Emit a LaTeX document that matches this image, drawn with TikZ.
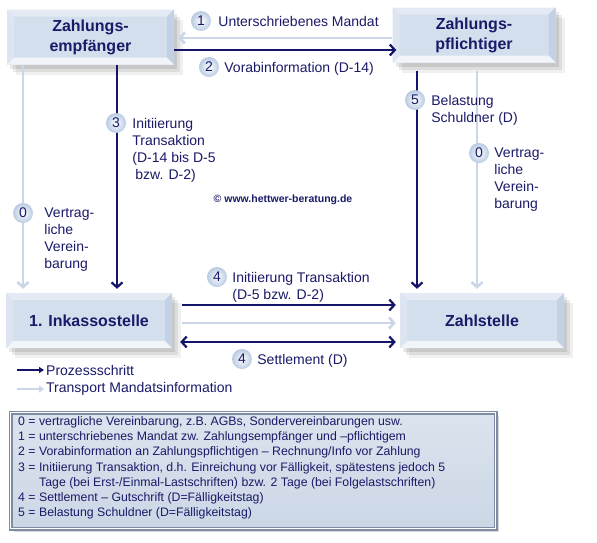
\documentclass[tikz,border=0pt]{standalone}
\usepackage{fontspec}
\setmainfont{Liberation Sans}
\usetikzlibrary{arrows.meta, shadows, positioning}

\definecolor{navy}{HTML}{1A1A68}
\definecolor{darkarrow}{HTML}{14146A}
\definecolor{lightarrow}{HTML}{CBD7E8}
\definecolor{boxfill}{HTML}{D4DFEE}
\definecolor{bevtop}{HTML}{E3EAF4}
\definecolor{bevleft}{HTML}{DCE5F1}
\definecolor{bevright}{HTML}{C3D1E4}
\definecolor{bevbottom}{HTML}{F1F5FA}
\definecolor{ballblue}{HTML}{B9CBE2}
\definecolor{notefill}{HTML}{CCD7E6}
\definecolor{noteline}{HTML}{7D8CA3}

\tikzset{
  party/.style={rectangle, minimum height=55pt, inner sep=0pt, align=center,
    fill=boxfill, text=navy, font={\fontsize{16}{20}\selectfont\bfseries},
    general shadow={shadow xshift=3pt, shadow yshift=-4pt, fill=black, opacity=0.09},
    general shadow={shadow xshift=6pt, shadow yshift=-7pt, fill=black, opacity=0.08},
    general shadow={shadow xshift=9pt, shadow yshift=-10pt, fill=black, opacity=0.06},
    path picture={
      \coordinate (pa) at (path picture bounding box.north west);
      \coordinate (pb) at (path picture bounding box.north east);
      \coordinate (pc) at (path picture bounding box.south east);
      \coordinate (pd) at (path picture bounding box.south west);
      \fill[bevtop] (pa) -- (pb) -- ([shift={(-7pt,-7pt)}]pb) -- ([shift={(7pt,-7pt)}]pa) -- cycle;
      \fill[bevright] (pb) -- (pc) -- ([shift={(-7pt,7pt)}]pc) -- ([shift={(-7pt,-7pt)}]pb) -- cycle;
      \fill[bevbottom] (pc) -- (pd) -- ([shift={(7pt,7pt)}]pd) -- ([shift={(-7pt,7pt)}]pc) -- cycle;
      \fill[bevleft] (pd) -- (pa) -- ([shift={(7pt,-7pt)}]pa) -- ([shift={(7pt,7pt)}]pd) -- cycle;
    }},
  numball/.style={circle, minimum size=20pt, inner sep=0pt, inner color=white,
    outer color=ballblue, text=navy, font={\fontsize{14}{17}\selectfont}},
  lbl/.style={anchor=north west, inner sep=0pt, align=left, text=navy,
    font={\fontsize{14}{17}\selectfont}},
  prozess/.style={draw=darkarrow, line width=2.2pt, -{Straight Barb[length=5pt,width=11pt]}},
  mandat/.style={draw=lightarrow, line width=2.6pt, -{Straight Barb[length=5pt,width=11pt]}},
}

\begin{document}
\begin{tikzpicture}[x=1pt, y=-1pt]
  \useasboundingbox[fill=white] (0,0) rectangle (597,542);

  % parties
  \node (empf) [party, minimum width=167pt] at (90.5,37)  {Zahlungs-\\empfänger};
  \node (pfl)  [party, minimum width=163pt] at (474,35)   {Zahlungs-\\pflichtiger};
  \node (inka) [party, minimum width=166pt] at (89,320.5) {1. Inkassostelle};
  \node (zahl) [party, minimum width=164pt] at (482,320.5) {Zahlstelle};

  % connectors
  \draw [mandat]  ([yshift=-3pt]pfl.west) -- ([yshift=-3pt,xshift=4pt]pfl.west -| empf.east);
  \draw [prozess] ([yshift=-13pt]empf.east) -- ([yshift=-13pt,xshift=4pt]empf.east -| pfl.west);
  \draw [mandat]  ([xshift=-67.5pt]empf.south) -- ([xshift=-67.5pt,yshift=4pt]empf.south |- inka.north);
  \draw [prozess] ([xshift=26.5pt]empf.south) -- ([xshift=26.5pt,yshift=4pt]empf.south |- inka.north);
  \draw [prozess] ([xshift=-57pt,yshift=-8pt]pfl.south) -- ([xshift=-57pt,yshift=4pt]pfl.south |- zahl.north);
  \draw [mandat]  ([xshift=3pt,yshift=-8pt]pfl.south) -- ([xshift=3pt,yshift=4pt]pfl.south |- zahl.north);
  \draw [prozess] ([xshift=10pt,yshift=15.5pt]inka.east) -- ([xshift=-4pt,yshift=15.5pt]inka.east -| zahl.west);
  \draw [mandat]  ([xshift=10pt,yshift=-2.5pt]inka.east) -- ([xshift=-4pt,yshift=-2.5pt]inka.east -| zahl.west);
  \draw [prozess, {Straight Barb[length=5pt,width=11pt]}-{Straight Barb[length=5pt,width=11pt]}]
        ([xshift=8pt,yshift=-21.5pt]inka.east) -- ([xshift=-4pt,yshift=-21.5pt]inka.east -| zahl.west);

  % step labels
  \node (n1)  [numball] at (201,21)  {1};
  \node (t1)  [lbl] at ([shift={(7pt,5pt)}]n1.east) {Unterschriebenes Mandat};
  \node (n2)  [numball] at (209,67)  {2};
  \node (t2)  [lbl] at ([shift={(5pt,5pt)}]n2.east) {Vorabinformation (D-14)};
  \node (n3)  [numball] at (116,123) {3};
  \node (t3)  [lbl] at ([shift={(6pt,5pt)}]n3.east) {Initiierung\\Transaktion\\(D-14 bis D-5\\\hspace{3pt}bzw. D-2)};
  \node (n5)  [numball] at (415,100) {5};
  \node (t5)  [lbl] at ([shift={(6pt,5pt)}]n5.east) {Belastung\\Schuldner (D)};
  \node (n0r) [numball] at (479,153) {0};
  \node (t0r) [lbl] at ([shift={(5pt,5pt)}]n0r.east) {Vertrag-\\liche\\Verein-\\barung};
  \node (n0l) [numball] at (23,213)  {0};
  \node (t0l) [lbl] at ([shift={(11pt,5pt)}]n0l.east) {Vertrag-\\liche\\Verein-\\barung};
  \node (n4a) [numball] at (217,277) {4};
  \node (t4a) [lbl] at ([shift={(5pt,5pt)}]n4a.east) {Initiierung Transaktion\\(D-5 bzw. D-2)};
  \node (n4b) [numball] at (242,359) {4};
  \node (t4b) [lbl] at ([shift={(5pt,5pt)}]n4b.east) {Settlement (D)};

  \node (copy) [text=navy, font={\fontsize{10.5}{12}\selectfont\bfseries}] at (283,200) {© www.hettwer-beratung.de};

  % legend
  \coordinate (lg1) at (17,370);
  \coordinate (lg2) at (17,389);
  \node (leg1) [lbl, anchor=west] at (46,370) {Prozessschritt};
  \node (leg2) [lbl, anchor=west] at (46,389) {Transport Mandatsinformation};
  \draw [draw=darkarrow, line width=1.8pt, -{Triangle[length=5pt,width=6pt]}] (lg1) -- ([xshift=-2pt]leg1.west);
  \draw [draw=lightarrow, line width=2.4pt, -{Triangle[length=5pt,width=7pt]}] (lg2) -- ([xshift=-2pt]leg2.west);

  % explanation box
  \node (note) [anchor=north west, minimum width=485pt, minimum height=116pt, inner sep=0pt,
        top color=notefill!70!white, bottom color=notefill, draw=noteline, line width=1.5pt,
        double=white, double distance=0.6pt,
        general shadow={shadow xshift=3pt, shadow yshift=-3pt, fill=black, opacity=0.15}] at (10,412) {};
  \node (notetext) [lbl, anchor=north west, font={\fontsize{12.3}{15.3}\selectfont}] at ([shift={(8pt,-4pt)}]note.north west)
    {0 = vertragliche Vereinbarung, z.B. AGBs, Sondervereinbarungen usw.\\
     1 = unterschriebenes Mandat zw. Zahlungsempfänger und –pflichtigem\\
     2 = Vorabinformation an Zahlungspflichtigen – Rechnung/Info vor Zahlung\\
     3 = Initiierung Transaktion, d.h. Einreichung vor Fälligkeit, spätestens jedoch 5\\
     \hspace{21pt}Tage (bei Erst-/Einmal-Lastschriften) bzw. 2 Tage (bei Folgelastschriften)\\
     4 = Settlement – Gutschrift (D=Fälligkeitstag)\\
     5 = Belastung Schuldner (D=Fälligkeitstag)};
\end{tikzpicture}
\end{document}
